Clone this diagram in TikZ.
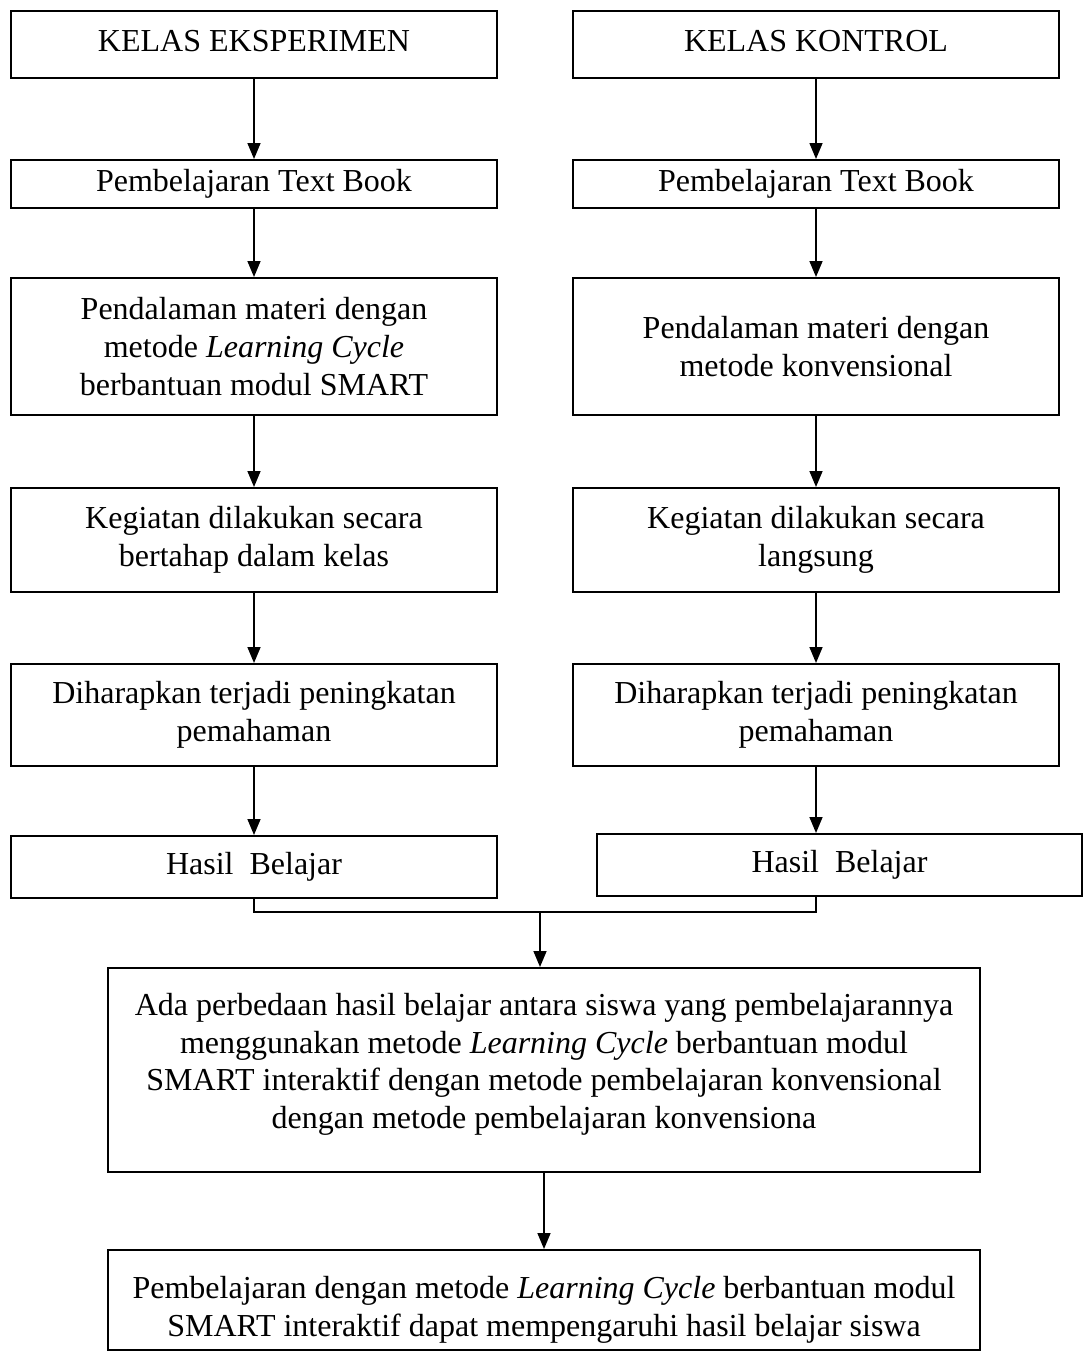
\documentclass[tikz,border=0pt]{standalone}
\usepackage{fontspec}
\setmainfont{Liberation Serif}
\usetikzlibrary{arrows.meta}
\begin{document}
\begin{tikzpicture}[x=0.5pt,y=-0.5pt,
  box/.style={draw, line width=1pt, align=center, inner sep=0pt,
    font=\fontsize{16pt}{18.8pt}\selectfont},
  arr/.style={-{Triangle[length=8pt,width=6.5pt]}, line width=0.8pt},
  conn/.style={line width=0.8pt}]
\useasboundingbox (0,0) rectangle (1090,1360);
% left column
\node[box, minimum width=243pt, minimum height=33.5pt] (L1) at (254,44.5) {KELAS EKSPERIMEN\\[-15pt]};
\node[box, minimum width=243pt, minimum height=24pt] (L2) at (254,184) {Pembelajaran Text Book};
\node[box, minimum width=243pt, minimum height=68.5pt] (L3) at (254,346.5) {Pendalaman materi dengan\\metode \textit{Learning Cycle}\\berbantuan modul SMART};
\node[box, minimum width=243pt, minimum height=52pt] (L4) at (254,540) {Kegiatan dilakukan secara\\bertahap dalam kelas};
\node[box, minimum width=243pt, minimum height=51pt] (L5) at (254,715) {Diharapkan terjadi peningkatan\\pemahaman};
\node[box, minimum width=243pt, minimum height=31pt] (L6) at (254,867) {Hasil\ \ Belajar};
% right column
\node[box, minimum width=243pt, minimum height=33.5pt] (R1) at (816,44.5) {KELAS KONTROL\\[-15pt]};
\node[box, minimum width=243pt, minimum height=24pt] (R2) at (816,184) {Pembelajaran Text Book};
\node[box, minimum width=243pt, minimum height=68.5pt] (R3) at (816,346.5) {Pendalaman materi dengan\\metode konvensional};
\node[box, minimum width=243pt, minimum height=52pt] (R4) at (816,540) {Kegiatan dilakukan secara\\langsung};
\node[box, minimum width=243pt, minimum height=51pt] (R5) at (816,715) {Diharapkan terjadi peningkatan\\pemahaman};
\node[box, minimum width=242.5pt, minimum height=31pt] (R6) at (839.5,865) {Hasil\ \ Belajar};
% bottom
\node[box, minimum width=436pt, minimum height=102pt] (B7) at (544,1070) {Ada perbedaan hasil belajar antara siswa yang pembelajarannya\\menggunakan metode \textit{Learning Cycle} berbantuan modul\\SMART interaktif dengan metode pembelajaran konvensional\\dengan metode pembelajaran konvensiona\\[-9.8pt]};
\node[box, minimum width=436pt, minimum height=50pt] (B8) at (544,1300) {\rule{0pt}{21pt}Pembelajaran dengan metode \textit{Learning Cycle} berbantuan modul\\SMART interaktif dapat mempengaruhi hasil belajar siswa};
\coordinate (J) at (540,912);
% connectors
\foreach \a/\b in {L1/L2,L2/L3,L3/L4,L4/L5,L5/L6,R1/R2,R2/R3,R3/R4,R4/R5}
  \draw[arr] (\a.south) -- (\b.north);
\draw[arr] (R5.south) -- (R5.south |- R6.north);
\draw[conn] (L6.south) |- (J);
\draw[conn] (R5.south |- R6.south) |- (J);
\draw[arr] (J) -- (J |- B7.north);
\draw[arr] (B7.south) -- (B8.north);
\end{tikzpicture}
\end{document}
